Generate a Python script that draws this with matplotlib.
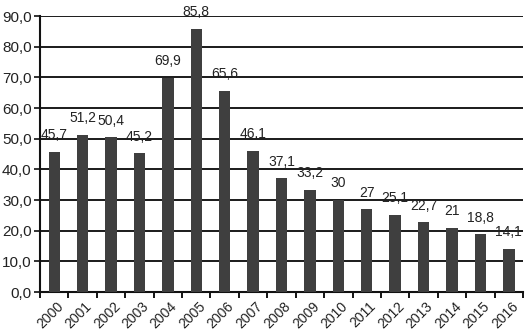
import matplotlib

matplotlib.use("Agg")
import matplotlib.pyplot as plt
from matplotlib.ticker import FuncFormatter, MultipleLocator
import numpy as np

YEARS = [str(y) for y in range(2000, 2017)]
VALUES = [45.7, 51.2, 50.4, 45.2, 69.9, 85.8, 65.6, 46.1, 37.1, 33.2,
          30, 27, 25.1, 22.7, 21, 18.8, 14.1]


def fmt_label(v):
    # whole numbers shown without decimals, others with a decimal comma
    if float(v).is_integer():
        return str(int(v))
    return f"{v:.1f}".replace(".", ",")


plt.rcParams["font.family"] = ["Liberation Sans", "DejaVu Sans"]
plt.rcParams["font.size"] = 10

fig = plt.figure(figsize=(5.31, 3.30), dpi=100)
ax = fig.add_axes([0.0753, 0.115, 0.9097, 0.8365])

x = np.arange(len(YEARS))
ax.bar(x, VALUES, width=0.4, color="#3f3f3f", zorder=3)

for xi, v in zip(x, VALUES):
    ax.annotate(fmt_label(v), (xi, v), xytext=(0, 7), textcoords="offset points",
                ha="center", va="bottom", fontsize=10, color="#222222", zorder=4)

ax.set_xlim(-0.5, len(YEARS) - 0.5)
ax.set_ylim(0, 90)
ax.yaxis.set_major_locator(MultipleLocator(10))
ax.yaxis.set_major_formatter(FuncFormatter(lambda v, _: f"{v:.1f}".replace(".", ",")))
ax.grid(axis="y", color="#1a1a1a", linewidth=1.4, zorder=1)

# tick marks sit between categories; year labels are drawn slanted under each bar
ax.set_xticks([])
ax.set_xticks(np.arange(len(YEARS) + 1) - 0.5, minor=True)
ax.tick_params(axis="x", which="minor", length=4, width=1.3, direction="out")
ax.tick_params(axis="y", length=4, width=1.3, direction="out", pad=2,
               labelsize=11, colors="#222222")
for xi, year in zip(x, YEARS):
    ax.annotate(year, (xi, 0), xycoords=("data", "axes fraction"),
                xytext=(1.5, -5), textcoords="offset points",
                rotation=45, ha="right", va="top", rotation_mode="anchor",
                fontsize=10, color="#222222", annotation_clip=False)

for side in ("top", "right"):
    ax.spines[side].set_visible(False)
for side in ("left", "bottom"):
    ax.spines[side].set_linewidth(1.5)
    ax.spines[side].set_color("#111111")

fig.savefig("out.png", dpi=100, facecolor="white")
